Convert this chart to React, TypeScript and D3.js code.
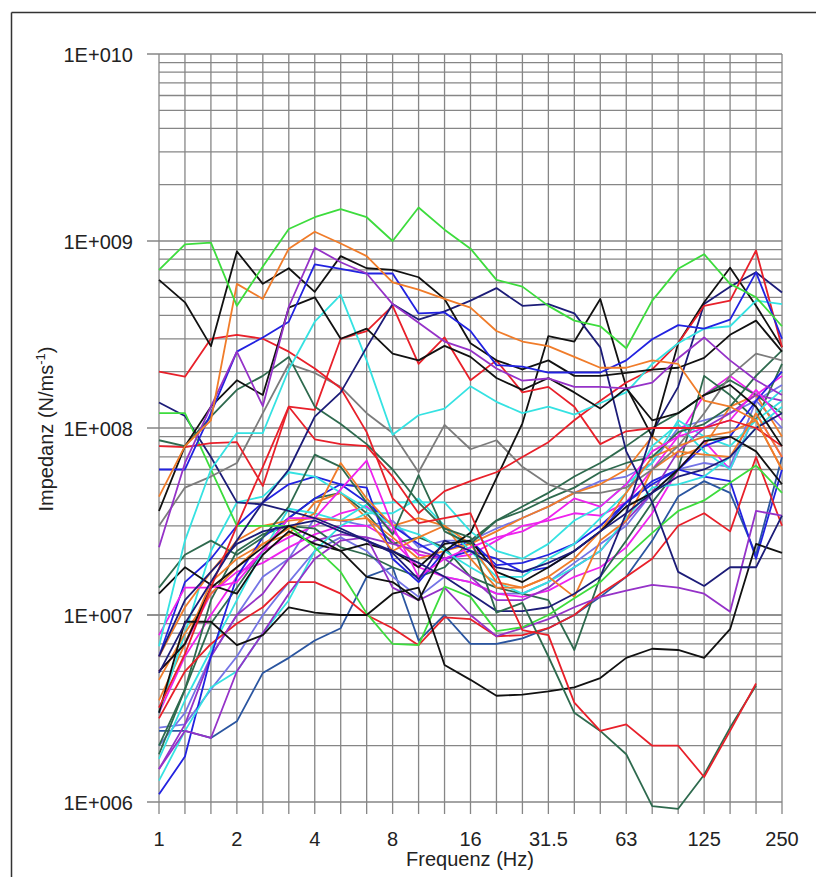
import React from "react";
import * as d3 from "d3";

// Third-octave band centre frequencies (Hz)
const BANDS = ["1", "1.25", "1.6", "2", "2.5", "3.15", "4", "5", "6.3", "8", "10", "12.5", "16", "20", "25", "31.5", "40", "50", "63", "80", "100", "125", "160", "200", "250"];
const LABELED_BANDS = ["1", "2", "4", "8", "16", "31.5", "63", "125", "250"];
const Y_TICKS = [1e6, 1e7, 1e8, 1e9, 1e10];
const Y_TICK_LABELS = ["1E+006", "1E+007", "1E+008", "1E+009", "1E+010"];

// Impedance spectra (N/ms-1), one value per band; null = not measured
const G1 = [7e8, 9.6e8, 9.8e8, 4.5e8, 7.3e8, 1.16e9, 1.34e9, 1.48e9, 1.34e9, 1.0e9, 1.51e9, 1.15e9, 9.1e8, 6.2e8, 5.7e8, 4.5e8, 3.75e8, 3.5e8, 2.67e8, 4.8e8, 7.1e8, 8.5e8, 5.9e8, 5.0e8, 3.5e8];
const O1 = [4.3e7, 8e7, 1.1e8, 5.9e8, 4.9e8, 9.1e8, 1.12e9, 9.7e8, 8.3e8, 6e8, 5.5e8, 4.9e8, 4.4e8, 3.3e8, 2.9e8, 2.74e8, 2.4e8, 2.1e8, 2.1e8, 2.3e8, 2.2e8, 1.4e8, 1.3e8, 1.1e8, 6e7];
const P1 = [2.3e7, 6.5e7, 1.3e8, 2.56e8, 1.31e8, 4.45e8, 9.2e8, 7.7e8, 6.7e8, 4.6e8, 3.65e8, 2.9e8, 2.6e8, 2.08e8, 1.79e8, 1.84e8, 1.66e8, 1.66e8, 1.63e8, 1.75e8, 2.36e8, 3.05e8, 2.3e8, 1.8e8, 1.5e8];
const B1 = [6e7, 6e7, 1.2e8, 2.56e8, 3.05e8, 3.7e8, 7.5e8, 7.1e8, 6.7e8, 6.7e8, 4.1e8, 4.15e8, 3.3e8, 2.17e8, 2.13e8, 1.98e8, 1.98e8, 1.98e8, 2.3e8, 2.98e8, 3.55e8, 3.4e8, 3.8e8, 6.8e8, 3e8];
const K1 = [6.2e8, 4.7e8, 2.74e8, 8.8e8, 5.9e8, 7.15e8, 5.35e8, 8.3e8, 7.15e8, 7e8, 6.4e8, 4.9e8, 2.84e8, 2.3e8, 2.06e8, 2.3e8, 1.9e8, 1.9e8, 1.97e8, 2.05e8, 2.1e8, 2.37e8, 3.15e8, 3.75e8, 2.56e8];
const K2 = [3.6e7, 8e7, 1.3e8, 1.8e8, 1.5e8, 4.4e8, 5e8, 3e8, 3.4e8, 2.5e8, 2.3e8, 2.75e8, 2.4e8, 1.85e8, 1.6e8, 1.85e8, 1.55e8, 1.27e8, 1.63e8, 1.1e8, 1.2e8, 1.5e8, 1.7e8, 1.3e8, 8e7];
const N1 = [4.9e6, 9e6, 1.5e7, 2.5e7, 4e7, 6e7, 1.15e8, 1.55e8, 2.7e8, 4.6e8, 3.8e8, 4.2e8, 4.8e8, 5.6e8, 4.5e8, 4.6e8, 4.1e8, 2.7e8, 7.5e7, 4e7, 1.7e7, 1.43e7, 1.8e7, 1.8e7, 3.4e7];
const C1 = [6.8e6, 2.5e7, 6e7, 9.4e7, 9.4e7, 2.05e8, 3.7e8, 5.15e8, 2.3e8, 9.2e7, 1.17e8, 1.27e8, 1.67e8, 1.38e8, 1.2e8, 1.3e8, 1.18e8, 1.36e8, 1.55e8, 2.2e8, 2.84e8, 3.4e8, 3.5e8, 4.8e8, 4.6e8];
const R1 = [2e8, 1.88e8, 3.0e8, 3.15e8, 3.0e8, 2.56e8, 2.08e8, 1.63e8, 9.5e7, 4.2e7, 3.1e7, 3.3e7, 3.5e7, 1.66e7, 8.3e6, 7.8e6, 3.4e6, 2.4e6, 2.6e6, 2.0e6, 2.0e6, 1.36e6, 2.4e6, 4.3e6, null];
const D2 = [8.6e7, 8e7, 1.15e8, 1.6e8, 1.9e8, 2.4e8, 1.3e8, 1.05e8, 8.2e7, 6e7, 4e7, 2.9e7, 2.6e7, 1.03e7, 1.16e7, 6e6, 3e6, 2.4e6, 1.8e6, 9.5e5, 9.2e5, 1.4e6, 2.5e6, 4.2e6, null];
const GR1 = [3e7, 4.8e7, 5.5e7, 6.5e7, 1.2e8, 2.2e8, 1.97e8, 1.66e8, 1.2e8, 9.4e7, 5.8e7, 1.04e8, 7.7e7, 8.6e7, 6.2e7, 5e7, 4.5e7, 4.5e7, 4.8e7, 6e7, 8e7, 1.2e8, 1.9e8, 2.5e8, 2.3e8];
const K3 = [3e6, 9.2e6, 9.2e6, 6.9e6, 7.8e6, 1.1e7, 1.03e7, 1e7, 1.0e7, 1.3e7, 1.4e7, 5.4e6, 4.5e6, 3.7e6, 3.75e6, 3.9e6, 4.1e6, 4.6e6, 5.9e6, 6.6e6, 6.5e6, 5.9e6, 8.4e6, 2.4e7, 2.15e7];
const R2 = [3.2e6, 6.2e6, 1.4e7, 3e7, 6.2e7, 1.3e8, 1.25e8, 3e8, 3.3e8, 4.5e8, 2.2e8, 3.05e8, 1.8e8, 2.3e8, 1.55e8, 1.66e8, 1.3e8, 8.2e7, 9.6e7, 1e8, 1e8, 1.0e8, 1.1e8, 1.0e8, 8e7];
const R4 = [8e7, 7.9e7, 8.3e7, 8.4e7, 4.9e7, 1.3e8, 8.7e7, 8.2e7, 8e7, 5.5e7, 3.5e7, 4.6e7, 5.2e7, 5.8e7, 7e7, 8.4e7, 1.1e8, 1.4e8, 1.75e8, 2.06e8, 2.84e8, 4.5e8, 4.8e8, 8.9e8, 2.7e8];
const M1 = [7.8e6, 1.4e7, 1.4e7, 1.5e7, 2.2e7, 3.3e7, 3.3e7, 4.7e7, 6.7e7, 3e7, 1.6e7, 2e7, 2.3e7, 2.6e7, 2.8e7, 3.3e7, 4.2e7, 3.8e7, 5e7, 7.5e7, 9e7, 1.0e8, 1.1e8, 1.6e8, 1.1e8];
const P3 = [1.5e6, 2.4e6, 2.2e6, 5e6, 8e6, 1.3e7, 2e7, 2.5e7, 2.6e7, 1.4e7, 1.2e7, 1.4e7, 1e7, 7.7e6, 8.5e6, 9.5e6, 1.1e7, 1.25e7, 1.35e7, 1.45e7, 1.4e7, 1.3e7, 1.04e7, 3.6e7, 3.4e7];
const K5 = [1.3e7, 1.8e7, 1.45e7, 1.3e7, 2.1e7, 2.8e7, 2.4e7, 2.2e7, 2.4e7, 2.2e7, 1.8e7, 2.4e7, 2.5e7, 1.7e7, 1.5e7, 1.8e7, 2.2e7, 2.8e7, 3.8e7, 4.5e7, 6e7, 8.5e7, 9e7, 7.5e7, 5e7];
const D3 = [1.4e7, 2.1e7, 2.5e7, 2.1e7, 2.6e7, 3.8e7, 7.2e7, 6.2e7, 4e7, 2.7e7, 5.6e7, 2.8e7, 2.4e7, 3.2e7, 3.6e7, 4.2e7, 4.8e7, 5.8e7, 6.5e7, 7e7, 9.5e7, 1.05e8, 1.3e8, 1.9e8, 2.6e8];
const O2 = [4.5e6, 8e6, 1.3e7, 1.8e7, 2.4e7, 2.9e7, 3.5e7, 6.5e7, 4.2e7, 3e7, 3.3e7, 3e7, 2.4e7, 1.5e7, 1.4e7, 1.6e7, 2e7, 2.8e7, 4.5e7, 7e7, 8e7, 9e7, 9.5e7, 1.1e8, 6e7];
const O3 = [6e6, 1.1e7, 1.7e7, 2.5e7, 3e7, 3.2e7, 3.3e7, 3.2e7, 3.3e7, 2.2e7, 2.6e7, 3.0e7, 2.0e7, 1.4e7, 1.4e7, 1.6e7, 1.25e7, 2.5e7, 3.2e7, 6e7, 7.5e7, 7.2e7, 7e7, 1.2e8, 7e7];
const C2 = [1.3e6, 2.4e6, 4.1e6, 5e6, 8e6, 1.2e7, 2.2e7, 3e7, 3.5e7, 3.5e7, 4.2e7, 3e7, 2.2e7, 1.6e7, 1.6e7, 2e7, 2.4e7, 3.3e7, 4.5e7, 8e7, 1.05e8, 7.5e7, 6e7, 1.2e8, 1.6e8];
const C3 = [3e6, 8e6, 2.2e7, 4e7, 4.3e7, 5.8e7, 5.5e7, 4.5e7, 3.7e7, 3e7, 2.7e7, 2.2e7, 1.8e7, 1.5e7, 1.3e7, 1.5e7, 1.8e7, 2.2e7, 3.3e7, 4.8e7, 5e7, 5.5e7, 7e7, 1e8, 1.3e8];
const B2 = [1.1e6, 1.75e6, 6e6, 1.6e7, 2.6e7, 3.3e7, 4.2e7, 5e7, 4.8e7, 2e7, 1.5e7, 2.2e7, 2.5e7, 1.85e7, 1.9e7, 2.1e7, 2.4e7, 3e7, 4e7, 5e7, 6e7, 8e7, 9e7, 1.4e8, 2e8];
const P2 = [1.5e6, 2.6e6, 6e6, 1e7, 1.3e7, 2e7, 2.5e7, 2.7e7, 2.6e7, 2.4e7, 2.2e7, 2e7, 1.6e7, 1.2e7, 1.2e7, 1.4e7, 1.8e7, 2.2e7, 3.2e7, 4.5e7, 7.5e7, 1.0e8, 1.2e8, 1.5e8, 1.4e8];
const N3 = [2.4e6, 2.4e6, 2.2e6, 2.7e6, 4.9e6, 5.9e6, 7.3e6, 8.5e6, 1.6e7, 1.8e7, 7.3e6, 1.0e7, 7e6, 7e6, 7.5e6, 8.5e6, 1e7, 1.25e7, 1.6e7, 2.5e7, 4.3e7, 5.2e7, 4.5e7, 2.1e7, 7e7];
const N4 = [6e6, 1.2e7, 1.7e7, 2.4e7, 2.8e7, 3e7, 3.2e7, 2.8e7, 2.5e7, 2.2e7, 1.9e7, 1.6e7, 1.3e7, 1.05e7, 1.05e7, 1.1e7, 1.3e7, 1.6e7, 3.5e7, 9.5e7, 1.66e8, 4.6e8, 5.7e8, 6.8e8, 5.3e8];
const K4 = [5e6, 7e6, 1.4e7, 1.8e7, 2.3e7, 3e7, 2.6e7, 2.2e7, 1.6e7, 1.5e7, 1.2e7, 2.2e7, 2.75e7, 5.4e7, 1.06e8, 3.1e8, 2.9e8, 4.9e8, 1.66e8, 9e7, 2.84e8, 4.7e8, 7.2e8, 4.5e8, 2.7e8];
const D4 = [2e6, 4e6, 1.2e7, 2.2e7, 2.7e7, 3e7, 2.9e7, 2.3e7, 2.1e7, 1.8e7, 1.6e7, 1.8e7, 2.5e7, 3.2e7, 3.8e7, 4.5e7, 5.5e7, 6.5e7, 8e7, 1e8, 1.2e8, 1.5e8, 1.8e8, 1.5e8, 1.2e8];
const D5 = [1.8e6, 4e6, 9e6, 1.4e7, 2.2e7, 3.3e7, 4.2e7, 4.5e7, 3.5e7, 2.4e7, 2.6e7, 2.3e7, 1.6e7, 1.4e7, 1.3e7, 1.2e7, 6.5e6, 1.6e7, 2.5e7, 4e7, 6e7, 1.9e8, 1.5e8, 1.1e8, 2.2e8];
const M2 = [3e6, 6e6, 1e7, 1.6e7, 2.2e7, 2.6e7, 3e7, 3.5e7, 3.8e7, 2.8e7, 2.1e7, 2e7, 2.1e7, 2.5e7, 3e7, 3.2e7, 3.5e7, 3.4e7, 4e7, 6e7, 9e7, 1.5e8, 1.9e8, 1.5e8, 1.9e8];
const M3 = [5e6, 7e6, 1.3e7, 1.7e7, 1.9e7, 2.3e7, 2.7e7, 3e7, 3e7, 2.5e7, 1.8e7, 1.6e7, 1.5e7, 1.3e7, 1.25e7, 1.35e7, 1.6e7, 1.8e7, 2.3e7, 3.5e7, 6e7, 8.5e7, 6e7, 1.2e8, 7e7];
const S1 = [2e6, 3e6, 6e6, 1e7, 1.6e7, 2e7, 3.3e7, 3.2e7, 3e7, 3.2e7, 2.3e7, 2.5e7, 2.5e7, 2.9e7, 3.3e7, 3.8e7, 4.5e7, 5.2e7, 5.5e7, 6.5e7, 1e8, 1.1e8, 1.2e8, 1.4e8, 1.7e8];
const S2 = [2.5e6, 2.6e6, 4e6, 6e6, 1e7, 1.5e7, 2.2e7, 2.6e7, 2.2e7, 1.6e7, 1.25e7, 1.6e7, 1.5e7, 1.3e7, 1.3e7, 1.5e7, 1.9e7, 2.4e7, 3e7, 4.5e7, 6e7, 6.5e7, 6.2e7, 1.4e8, 1e8];
const R5 = [2.8e6, 5e6, 7e6, 9e6, 1.1e7, 1.5e7, 1.5e7, 1.3e7, 1e7, 8.5e6, 6.9e6, 9.7e6, 9.5e6, 7.7e6, 7.8e6, 8.5e6, 1e7, 1.3e7, 1.6e7, 2e7, 3e7, 3.5e7, 2.8e7, 7e7, 3e7];
const B3 = [6e6, 1.5e7, 2e7, 3e7, 4e7, 5e7, 5.5e7, 5e7, 4e7, 3e7, 2.4e7, 2e7, 2.2e7, 2e7, 1.7e7, 1.8e7, 2.2e7, 2.8e7, 4e7, 5.2e7, 6e7, 5.5e7, 5.2e7, 2e7, 6e7];
const C4 = [1.7e6, 3.5e6, 6.5e6, 1.2e7, 2.2e7, 3.7e7, 3.5e7, 3.2e7, 3.9e7, 4e7, 4e7, 4e7, 2.8e7, 2.2e7, 2e7, 2.4e7, 3.2e7, 3.8e7, 5e7, 6.5e7, 1.1e8, 9e7, 8e7, 1.1e8, 1.4e8];
const O4 = [3.5e6, 7e6, 1.5e7, 2e7, 2.4e7, 2.7e7, 4e7, 4.5e7, 3.3e7, 2.6e7, 2e7, 2.2e7, 2.4e7, 2.8e7, 3.3e7, 3.8e7, 4.5e7, 5e7, 6e7, 9e7, 7e7, 8e7, 1.3e8, 1.5e8, 9e7];
const N2 = [1.37e8, 1.16e8, 7e7, 4e7, 3.9e7, 3.6e7, 3.3e7, 2.9e7, 2.5e7, 2.15e7, 1.55e7, 2.5e7, 2.2e7, 1.8e7, 1.7e7, 1.9e7, 2.2e7, 2.8e7, 3.5e7, 4.5e7, 5.5e7, 6e7, 7e7, 1e8, 1.2e8];
const G2 = [1.2e8, 1.2e8, 6e7, 3e7, 3e7, 3e7, 2.3e7, 1.7e7, 1.02e7, 7e6, 6.9e6, 1.42e7, 1.25e7, 8.2e6, 8.6e6, 1e7, 1.23e7, 1.5e7, 2.05e7, 2.75e7, 3.6e7, 4.1e7, 5.1e7, 6.3e7, 4.5e7];

const BLACK = "#111111";
const RED = "#e8202a";
const GREEN = "#3ddc3d";
const ORANGE = "#f07c2a";
const BLUE = "#2222e0";
const NAVY = "#1c1c78";
const PURPLE = "#9532c8";
const CYAN = "#35e2e2";
const MAGENTA = "#ee22ee";
const DKGREEN = "#2e6a4e";
const GREY = "#7c7c7c";
const SLATE = "#7474e6";
const STEEL = "#2a55a0";

const SERIES: [(number | null)[], string][] = [
  [N3, STEEL], [S2, SLATE], [S1, SLATE], [M3, MAGENTA], [M2, MAGENTA], [D5, DKGREEN], [D4, DKGREEN],
  [O4, ORANGE], [C4, CYAN], [B3, BLUE], [R5, RED], [P2, PURPLE], [B2, BLUE], [C3, CYAN], [C2, CYAN],
  [O3, ORANGE], [O2, ORANGE], [D3, DKGREEN], [K5, BLACK], [P3, PURPLE], [M1, MAGENTA], [N2, NAVY],
  [G2, GREEN], [K3, BLACK], [GR1, GREY], [N4, NAVY], [K4, BLACK], [R4, RED], [R2, RED], [D2, DKGREEN],
  [R1, RED], [C1, CYAN], [N1, NAVY], [K2, BLACK], [K1, BLACK], [B1, BLUE], [P1, PURPLE], [O1, ORANGE], [G1, GREEN],
];

const FONT = "'Liberation Sans', Arial, sans-serif";

export default function App() {
  const W = 816;
  const H = 877;
  const x = d3.scalePoint<string>().domain(BANDS).range([159, 782]);
  const y = d3.scaleLog().domain([1e6, 1e10]).range([802, 54]);

  const minor: number[] = [];
  for (let e = 6; e < 10; e++) {
    for (let k = 2; k <= 9; k++) minor.push(k * Math.pow(10, e));
  }

  const line = d3
    .line<number | null>()
    .defined((d) => d != null)
    .x((_, i) => x(BANDS[i]) as number)
    .y((d) => y(d as number));

  const [x0, x1] = x.range();

  return (
    <svg width={W} height={H} style={{ position: "absolute", left: 0, top: 0, background: "#fff" }}>
      {/* outer frame */}
      <line x1={11.5} y1={12.5} x2={W} y2={12.5} stroke="#333" strokeWidth={1.5} />
      <line x1={11.5} y1={12.5} x2={11.5} y2={H} stroke="#333" strokeWidth={1.5} />

      {/* grid */}
      <g>
        {minor.map((v) => (
          <line key={"m" + v} x1={x0} x2={x1} y1={y(v)} y2={y(v)} stroke="#868686" strokeWidth={1.3} />
        ))}
        {Y_TICKS.map((v) => (
          <line key={"M" + v} x1={147} x2={x1} y1={y(v)} y2={y(v)} stroke={v === 1e7 ? "#222" : "#868686"} strokeWidth={v === 1e7 ? 1 : 1.4} />
        ))}
        {BANDS.map((b) => (
          <line key={"v" + b} x1={x(b)} x2={x(b)} y1={54} y2={814} stroke="#868686" strokeWidth={1.3} />
        ))}
      </g>

      {/* spectra */}
      <g fill="none" strokeWidth={1.8} strokeLinejoin="round">
        {SERIES.map(([vals, c], i) => (
          <path key={i} d={line(vals) || ""} stroke={c} />
        ))}
      </g>

      {/* axis labels */}
      <g fontFamily={FONT} fontSize={20} fill="#222">
        {Y_TICKS.map((v, i) => (
          <text key={"yl" + v} x={133} y={y(v) + 8} textAnchor="end">
            {Y_TICK_LABELS[i]}
          </text>
        ))}
        {LABELED_BANDS.map((b) => (
          <text key={"xl" + b} x={x(b)} y={846} textAnchor="middle">
            {b}
          </text>
        ))}
        <text x={470} y={866} textAnchor="middle">
          Frequenz (Hz)
        </text>
        <text transform="translate(53,429) rotate(-90)" textAnchor="middle" fontSize={20}>
          Impedanz (N/ms<tspan fontSize={13} dy={-8}>-1</tspan>
          <tspan dy={8}>)</tspan>
        </text>
      </g>
    </svg>
  );
}
